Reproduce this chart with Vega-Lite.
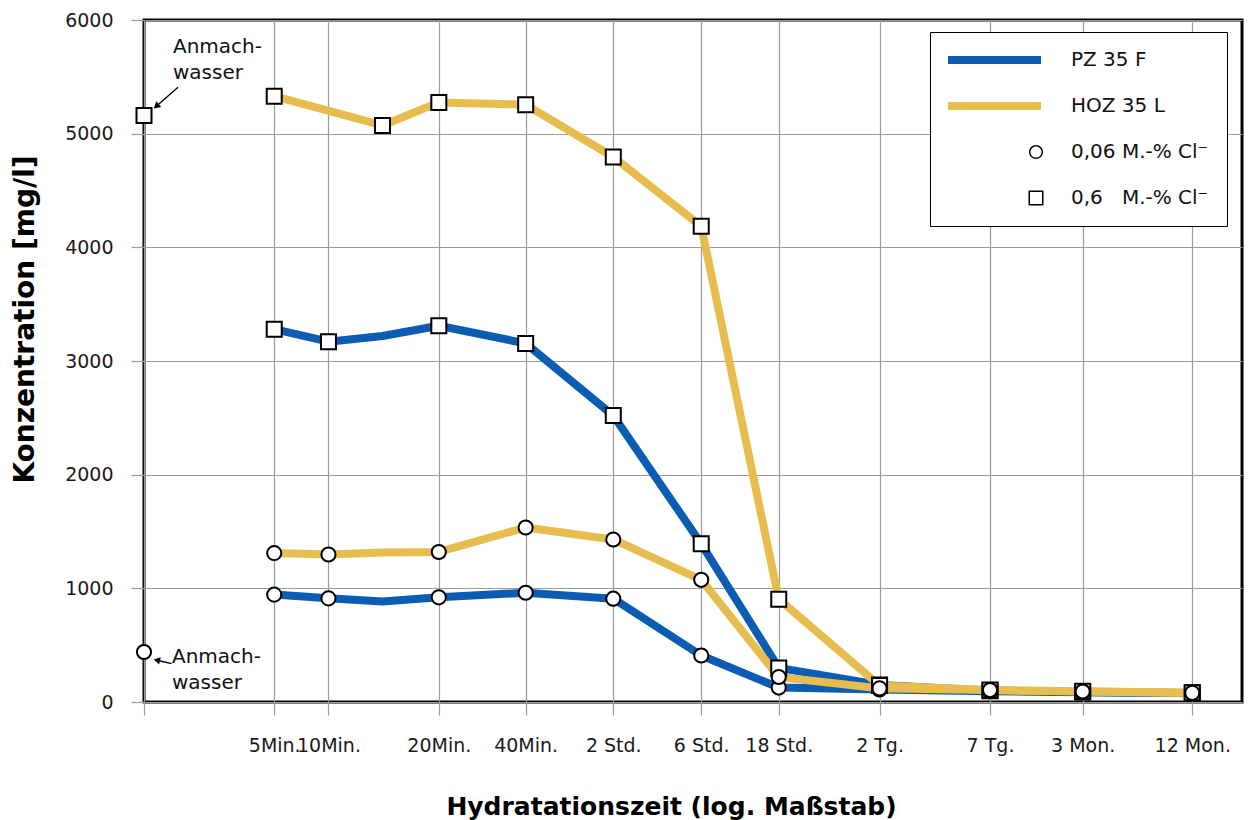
{
  "$schema": "https://vega.github.io/schema/vega-lite/v6.json",
  "width": 1098,
  "height": 682,
  "autosize": {"type": "none"},
  "padding": {"left": 144, "top": 20, "right": 12, "bottom": 118},
  "background": "#ffffff",
  "config": {
    "font": "DejaVu Sans",
    "view": {"stroke": "#000000", "strokeWidth": 3},
    "axis": {
      "domain": false,
      "grid": true,
      "gridColor": "#9c9c9c",
      "gridWidth": 1.2,
      "tickColor": "#9c9c9c",
      "tickWidth": 1.2,
      "tickSize": 13,
      "labelFont": "DejaVu Sans",
      "labelFontSize": 19,
      "labelColor": "#1a1a1a",
      "titleFont": "DejaVu Sans",
      "titleFontWeight": "bold",
      "titleColor": "#000000"
    }
  },
  "datasets": {
    "messwerte": [
      {"t": "Anmachwasser", "x": 0, "zement": "Anmachwasser", "cl": "0,06", "c": 440, "sym": true},
      {"t": "Anmachwasser", "x": 0, "zement": "Anmachwasser", "cl": "0,6", "c": 5160, "sym": true},

      {"t": "5Min.", "x": 11.86, "zement": "PZ 35 F", "cl": "0,06", "c": 945, "sym": true},
      {"t": "10Min.", "x": 16.8, "zement": "PZ 35 F", "cl": "0,06", "c": 912, "sym": true},
      {"t": "15Min.", "x": 21.72, "zement": "PZ 35 F", "cl": "0,06", "c": 885, "sym": false},
      {"t": "20Min.", "x": 26.85, "zement": "PZ 35 F", "cl": "0,06", "c": 921, "sym": true},
      {"t": "40Min.", "x": 34.76, "zement": "PZ 35 F", "cl": "0,06", "c": 961, "sym": true},
      {"t": "2 Std.", "x": 42.74, "zement": "PZ 35 F", "cl": "0,06", "c": 909, "sym": true},
      {"t": "6 Std.", "x": 50.75, "zement": "PZ 35 F", "cl": "0,06", "c": 409, "sym": true},
      {"t": "18 Std.", "x": 57.81, "zement": "PZ 35 F", "cl": "0,06", "c": 127, "sym": true},
      {"t": "2 Tg.", "x": 66.99, "zement": "PZ 35 F", "cl": "0,06", "c": 110, "sym": true},
      {"t": "7 Tg.", "x": 77.05, "zement": "PZ 35 F", "cl": "0,06", "c": 95, "sym": true},
      {"t": "3 Mon.", "x": 85.49, "zement": "PZ 35 F", "cl": "0,06", "c": 85, "sym": true},
      {"t": "12 Mon.", "x": 95.47, "zement": "PZ 35 F", "cl": "0,06", "c": 78, "sym": true},

      {"t": "5Min.", "x": 11.86, "zement": "PZ 35 F", "cl": "0,6", "c": 3280, "sym": true},
      {"t": "10Min.", "x": 16.8, "zement": "PZ 35 F", "cl": "0,6", "c": 3170, "sym": true},
      {"t": "15Min.", "x": 21.72, "zement": "PZ 35 F", "cl": "0,6", "c": 3220, "sym": false},
      {"t": "20Min.", "x": 26.85, "zement": "PZ 35 F", "cl": "0,6", "c": 3310, "sym": true},
      {"t": "40Min.", "x": 34.76, "zement": "PZ 35 F", "cl": "0,6", "c": 3155, "sym": true},
      {"t": "2 Std.", "x": 42.74, "zement": "PZ 35 F", "cl": "0,6", "c": 2520, "sym": true},
      {"t": "6 Std.", "x": 50.75, "zement": "PZ 35 F", "cl": "0,6", "c": 1392, "sym": true},
      {"t": "18 Std.", "x": 57.81, "zement": "PZ 35 F", "cl": "0,6", "c": 300, "sym": true},
      {"t": "2 Tg.", "x": 66.99, "zement": "PZ 35 F", "cl": "0,6", "c": 150, "sym": true},
      {"t": "7 Tg.", "x": 77.05, "zement": "PZ 35 F", "cl": "0,6", "c": 100, "sym": true},
      {"t": "3 Mon.", "x": 85.49, "zement": "PZ 35 F", "cl": "0,6", "c": 88, "sym": true},
      {"t": "12 Mon.", "x": 95.47, "zement": "PZ 35 F", "cl": "0,6", "c": 80, "sym": true},

      {"t": "5Min.", "x": 11.86, "zement": "HOZ 35 L", "cl": "0,06", "c": 1310, "sym": true},
      {"t": "10Min.", "x": 16.8, "zement": "HOZ 35 L", "cl": "0,06", "c": 1298, "sym": true},
      {"t": "15Min.", "x": 21.72, "zement": "HOZ 35 L", "cl": "0,06", "c": 1315, "sym": false},
      {"t": "20Min.", "x": 26.85, "zement": "HOZ 35 L", "cl": "0,06", "c": 1320, "sym": true},
      {"t": "40Min.", "x": 34.76, "zement": "HOZ 35 L", "cl": "0,06", "c": 1535, "sym": true},
      {"t": "2 Std.", "x": 42.74, "zement": "HOZ 35 L", "cl": "0,06", "c": 1430, "sym": true},
      {"t": "6 Std.", "x": 50.75, "zement": "HOZ 35 L", "cl": "0,06", "c": 1075, "sym": true},
      {"t": "18 Std.", "x": 57.81, "zement": "HOZ 35 L", "cl": "0,06", "c": 220, "sym": true},
      {"t": "2 Tg.", "x": 66.99, "zement": "HOZ 35 L", "cl": "0,06", "c": 120, "sym": true},
      {"t": "7 Tg.", "x": 77.05, "zement": "HOZ 35 L", "cl": "0,06", "c": 105, "sym": true},
      {"t": "3 Mon.", "x": 85.49, "zement": "HOZ 35 L", "cl": "0,06", "c": 92, "sym": true},
      {"t": "12 Mon.", "x": 95.47, "zement": "HOZ 35 L", "cl": "0,06", "c": 80, "sym": true},

      {"t": "5Min.", "x": 11.86, "zement": "HOZ 35 L", "cl": "0,6", "c": 5330, "sym": true},
      {"t": "15Min.", "x": 21.72, "zement": "HOZ 35 L", "cl": "0,6", "c": 5072, "sym": true},
      {"t": "20Min.", "x": 26.85, "zement": "HOZ 35 L", "cl": "0,6", "c": 5275, "sym": true},
      {"t": "40Min.", "x": 34.76, "zement": "HOZ 35 L", "cl": "0,6", "c": 5255, "sym": true},
      {"t": "2 Std.", "x": 42.74, "zement": "HOZ 35 L", "cl": "0,6", "c": 4795, "sym": true},
      {"t": "6 Std.", "x": 50.75, "zement": "HOZ 35 L", "cl": "0,6", "c": 4185, "sym": true},
      {"t": "18 Std.", "x": 57.81, "zement": "HOZ 35 L", "cl": "0,6", "c": 905, "sym": true},
      {"t": "2 Tg.", "x": 66.99, "zement": "HOZ 35 L", "cl": "0,6", "c": 145, "sym": true},
      {"t": "7 Tg.", "x": 77.05, "zement": "HOZ 35 L", "cl": "0,6", "c": 105, "sym": true},
      {"t": "3 Mon.", "x": 85.49, "zement": "HOZ 35 L", "cl": "0,6", "c": 95, "sym": true},
      {"t": "12 Mon.", "x": 95.47, "zement": "HOZ 35 L", "cl": "0,6", "c": 82, "sym": true}
    ],
    "beschriftung": [
      {"x": 2.64, "c": 5847, "txt": ["Anmach-", "wasser"]},
      {"x": 2.55, "c": 481, "txt": ["Anmach-", "wasser"]}
    ],
    "pfeile": [
      {"x": 3.1, "c": 5408, "x2": 1.12, "c2": 5241, "winkel": 228.8},
      {"x": 2.52, "c": 338, "x2": 1.17, "c2": 367, "winkel": 282.7}
    ]
  },
  "layer": [
    {
      "data": {"name": "messwerte"},
      "transform": [{"filter": "datum.x > 0"}],
      "mark": {"type": "line", "strokeWidth": 8, "strokeJoin": "round", "strokeCap": "butt"},
      "encoding": {
        "x": {
          "field": "x",
          "type": "quantitative",
          "scale": {"domain": [0, 100], "nice": false, "zero": false},
          "axis": {
            "values": [0, 11.86, 16.8, 26.85, 34.76, 42.74, 50.75, 57.81, 66.99, 77.05, 85.49, 95.47],
            "labelExpr": "datum.value < 1 ? '' : datum.value < 12 ? '5Min.' : datum.value < 17 ? '10Min.' : datum.value < 27 ? '20Min.' : datum.value < 35 ? '40Min.' : datum.value < 43 ? '2 Std.' : datum.value < 51 ? '6 Std.' : datum.value < 58 ? '18 Std.' : datum.value < 67 ? '2 Tg.' : datum.value < 78 ? '7 Tg.' : datum.value < 86 ? '3 Mon.' : '12 Mon.'",
            "labelPadding": 21,
            "labelOverlap": false,
            "labelFlush": false,
            "title": "Hydratationszeit (log. Maßstab)",
            "titleFontSize": 25,
            "titleAnchor": "start",
            "titleAlign": "center",
            "titleBaseline": "top",
            "titleX": 527,
            "titleY": 92
          }
        },
        "y": {
          "field": "c",
          "type": "quantitative",
          "scale": {"domain": [0, 6000], "nice": false},
          "axis": {
            "values": [0, 1000, 2000, 3000, 4000, 5000, 6000],
            "format": "d",
            "labelPadding": 18,
            "title": "Konzentration [mg/l]",
            "titleFontSize": 28,
            "titleAngle": 270,
            "titleAlign": "center",
            "titleBaseline": "top",
            "titleX": -133,
            "titleY": 299
          }
        },
        "color": {
          "field": "zement",
          "type": "nominal",
          "scale": {
            "domain": ["PZ 35 F", "HOZ 35 L", "0,06 M.-% Cl⁻", "0,6\u00a0\u00a0\u00a0M.-% Cl⁻"],
            "range": ["#0b5db3", "#e8bd50", "transparent", "transparent"]
          },
          "legend": {
            "title": null,
            "orient": "none",
            "legendX": 786,
            "legendY": 12,
            "padding": 18,
            "strokeColor": "#000000",
            "fillColor": "#ffffff",
            "labelFont": "DejaVu Sans",
            "labelFontSize": 20,
            "labelColor": "#111111",
            "labelLimit": 400,
            "labelOffset": 103,
            "symbolOffset": 0,
            "symbolType": "stroke",
            "symbolSize": 144,
            "symbolStrokeWidth": 8,
            "rowPadding": 26,
            "encode": {
              "symbols": {
                "update": {
                  "shape": {"signal": "indexof(datum.value, 'M.-%') < 0 ? 'M-1.667,0H13.833' : indexof(datum.value, '0,06') === 0 ? 'M-1.667,0H13.833M14.167,0A1.167,1.167 0 1,1 11.833,0A1.167,1.167 0 1,1 14.167,0ZM13.933,0A0.933,0.933 0 1,0 12.067,0A0.933,0.933 0 1,0 13.933,0Z' : 'M-1.667,0H13.833M11.75,-1.25H14.25V1.25H11.75ZM12,-1V1H14V-1Z'"},
                  "strokeJoin": {"value": "round"},
                  "strokeOpacity": {"signal": "indexof(datum.value, 'M.-%') < 0 ? 1 : 0"},
                  "fill": {"signal": "indexof(datum.value, 'M.-%') < 0 ? 'transparent' : '#000000'"}
                }
              }
            }
          }
        },
        "detail": {"field": "cl", "type": "nominal"},
        "order": {"field": "x", "type": "quantitative"}
      }
    },
    {
      "data": {"name": "messwerte"},
      "transform": [{"filter": "datum.sym"}],
      "mark": {"type": "point", "filled": true, "fill": "#ffffff", "stroke": "#000000", "strokeWidth": 2, "opacity": 1},
      "encoding": {
        "x": {"field": "x", "type": "quantitative"},
        "y": {"field": "c", "type": "quantitative"},
        "shape": {
          "field": "cl",
          "type": "nominal",
          "scale": {"domain": ["0,06", "0,6"], "range": ["circle", "square"]},
          "legend": null
        },
        "size": {
          "field": "cl",
          "type": "nominal",
          "scale": {"domain": ["0,06", "0,6"], "range": [200, 225]},
          "legend": null
        },
        "order": {"field": "cl", "sort": "descending"}
      }
    },
    {
      "data": {"name": "pfeile"},
      "mark": {"type": "rule", "stroke": "#000000", "strokeWidth": 1.4},
      "encoding": {
        "x": {"field": "x", "type": "quantitative"},
        "y": {"field": "c", "type": "quantitative"},
        "x2": {"field": "x2"},
        "y2": {"field": "c2"}
      }
    },
    {
      "data": {"name": "pfeile"},
      "mark": {"type": "point", "shape": "triangle-up", "filled": true, "color": "#000000", "size": 55, "opacity": 1},
      "encoding": {
        "x": {"field": "x2", "type": "quantitative"},
        "y": {"field": "c2", "type": "quantitative"},
        "angle": {"field": "winkel", "type": "quantitative", "scale": null}
      }
    },
    {
      "data": {"name": "beschriftung"},
      "mark": {"type": "text", "align": "left", "baseline": "top", "font": "DejaVu Sans", "fontSize": 20, "lineHeight": 26, "color": "#111111"},
      "encoding": {
        "x": {"field": "x", "type": "quantitative"},
        "y": {"field": "c", "type": "quantitative"},
        "text": {"field": "txt"}
      }
    }
  ]
}
